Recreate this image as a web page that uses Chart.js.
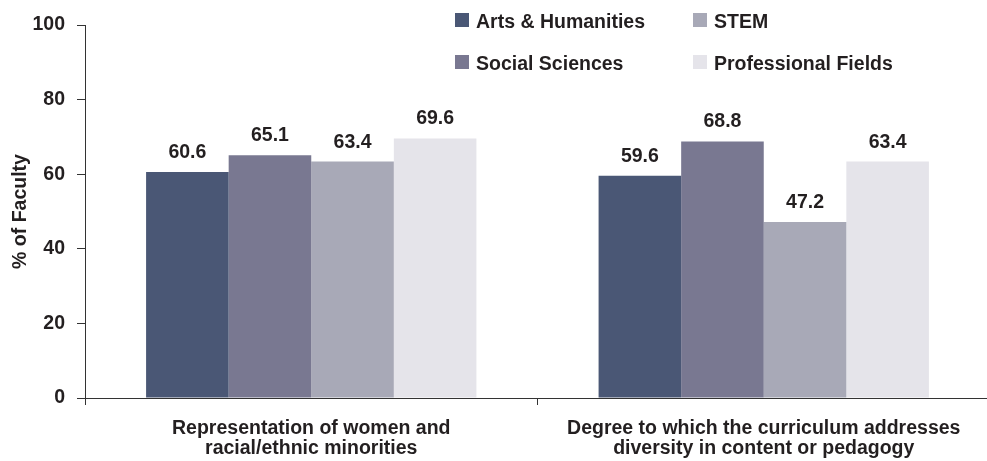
<!DOCTYPE html>
<html>
<head>
<meta charset="utf-8">
<script src="https://cdn.jsdelivr.net/npm/chart.js@4.4.0/dist/chart.umd.min.js"></script>
<style>
  html, body { margin: 0; padding: 0; background: #fff; overflow: hidden; }
  #wrap { width: 990px; height: 461px; position: relative; }
</style>
</head>
<body>
<div id="wrap"><canvas id="myChart"></canvas></div>
<script>
// categories and series
const categories = [
  ["Representation of women and", "racial/ethnic minorities"],
  ["Degree to which the curriculum addresses", "diversity in content or pedagogy"]
];
const artsHumanities = [60.6, 59.6];
const socialSciences = [65.1, 68.8];
const stem = [63.4, 47.2];
const professionalFields = [69.6, 63.4];
const yTicks = [0, 20, 40, 60, 80, 100];

const FONT = "'Liberation Sans', Arial, Helvetica, sans-serif";
const TEXT = "#231f20";
const SIZE = 19.5;

// legend is laid out in two columns like the original
const legendItems = [
  { text: "Arts & Humanities", color: "#4a5775", x: 455, y: 13 },
  { text: "STEM", color: "#a8a9b7", x: 693, y: 13 },
  { text: "Social Sciences", color: "#797891", x: 455, y: 55 },
  { text: "Professional Fields", color: "#e5e4ea", x: 693, y: 55 }
];

const legendPlugin = {
  id: "twoColLegend",
  afterDraw(chart) {
    const c = chart.ctx;
    c.save();
    c.font = "bold " + SIZE + "px " + FONT;
    c.textBaseline = "alphabetic";
    c.textAlign = "left";
    legendItems.forEach(item => {
      c.fillStyle = item.color;
      c.fillRect(item.x, item.y, 14, 14);
      c.fillStyle = TEXT;
      c.fillText(item.text, item.x + 21, item.y + 15);
    });
    c.restore();
  }
};

// value labels above bars
const valueLabels = {
  id: "valueLabels",
  afterDatasetsDraw(chart) {
    const c = chart.ctx;
    c.save();
    c.font = "bold " + SIZE + "px " + FONT;
    c.fillStyle = TEXT;
    c.textAlign = "center";
    c.textBaseline = "alphabetic";
    chart.data.datasets.forEach((ds, i) => {
      chart.getDatasetMeta(i).data.forEach((bar, j) => {
        c.fillText(ds.data[j].toFixed(1), bar.x, bar.y - 14);
      });
    });
    c.restore();
  }
};

const ctx = document.getElementById("myChart");

var chart = new Chart(ctx, {
  type: "bar",
  data: {
    labels: categories,
    datasets: [
      { label: "Arts & Humanities", data: artsHumanities, backgroundColor: "#4a5775" },
      { label: "Social Sciences", data: socialSciences, backgroundColor: "#797891" },
      { label: "STEM", data: stem, backgroundColor: "#a8a9b7" },
      { label: "Professional Fields", data: professionalFields, backgroundColor: "#e5e4ea" }
    ]
  },
  options: {
    responsive: true,
    maintainAspectRatio: false,
    animation: false,
    layout: { padding: { top: 25, right: 0, left: 0, bottom: 0 } },
    datasets: {
      bar: {
        categoryPercentage: 0.73,
        barPercentage: 1,
        borderWidth: 0
      }
    },
    scales: {
      x: {
        grid: { drawOnChartArea: false, drawTicks: true, tickLength: 7, color: "#333", offset: true },
        border: { display: true, color: "#333", width: 1 },
        ticks: {
          color: TEXT,
          padding: 14,
          maxRotation: 0,
          autoSkip: false,
          font: { family: FONT, size: SIZE, weight: "bold", lineHeight: 1.0 }
        },
        afterFit(scale) { scale.height = 63; }
      },
      y: {
        min: 0,
        max: 100,
        afterBuildTicks(scale) { scale.ticks = yTicks.map(v => ({ value: v })); },
        grid: { drawOnChartArea: false, drawTicks: true, tickLength: 8, color: "#333" },
        border: { display: true, color: "#333", width: 1 },
        ticks: {
          color: TEXT,
          padding: 12,
          font: { family: FONT, size: SIZE, weight: "bold" }
        },
        title: {
          display: true,
          text: "% of Faculty",
          color: TEXT,
          padding: { top: 9, bottom: 0 },
          font: { family: FONT, size: SIZE, weight: "bold" }
        },
        afterFit(scale) { scale.width = 85; }
      }
    },
    plugins: {
      legend: { display: false },
      tooltip: { enabled: false }
    }
  },
  plugins: [legendPlugin, valueLabels]
});
</script>
</body>
</html>
